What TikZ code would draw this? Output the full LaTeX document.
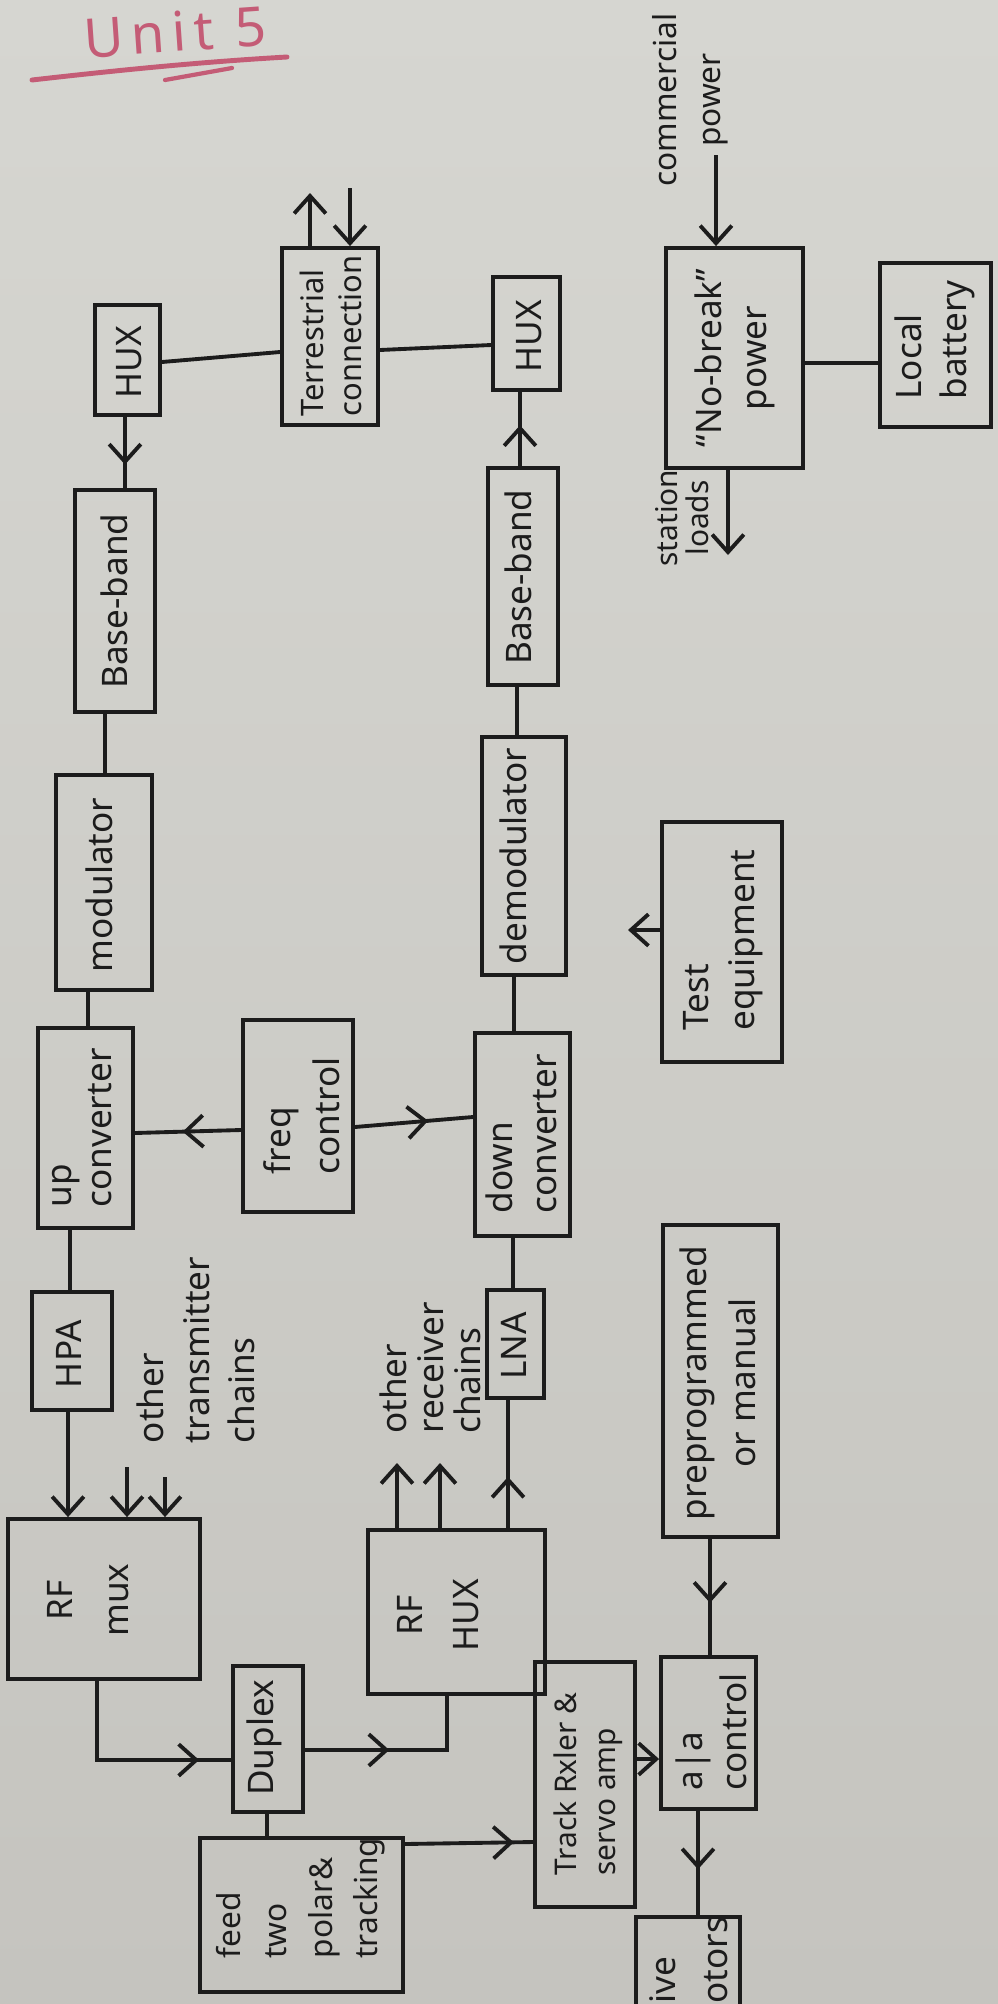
\documentclass[tikz,border=0pt]{standalone}
\usepackage{fontspec}
\setmainfont{Noto Sans}
\newfontfamily\titlefont[LetterSpace=14]{Noto Sans}
\usetikzlibrary{arrows.meta,decorations.markings}

\definecolor{paperlight}{RGB}{214,214,209}
\definecolor{paperdark}{RGB}{197,196,191}
\definecolor{ink}{RGB}{28,28,28}
\definecolor{redpen}{RGB}{196,92,118}

\tikzset{
  box/.style={draw=ink, line width=1.1pt, inner sep=0pt},
  lbl/.style={rotate=90, text=ink, inner sep=0pt, align=left,
              font=\fontsize{10}{13}\selectfont},
  wire/.style={draw=ink, line width=1.1pt},
  ma40/.style={decoration={markings, mark=at position 0.40 with {\arrow{>}}}, postaction={decorate}},
  ma43/.style={decoration={markings, mark=at position 0.43 with {\arrow{>}}}, postaction={decorate}},
  ma55/.style={decoration={markings, mark=at position 0.55 with {\arrow{>}}}, postaction={decorate}},
  ma62/.style={decoration={markings, mark=at position 0.62 with {\arrow{>}}}, postaction={decorate}},
  ma67/.style={decoration={markings, mark=at position 0.67 with {\arrow{>}}}, postaction={decorate}},
  ma85/.style={decoration={markings, mark=at position 0.85 with {\arrow{>}}}, postaction={decorate}},
}

\begin{document}
\begin{tikzpicture}[x=0.1mm,y=-0.1mm,
  >={Straight Barb[length=5pt,width=9pt]}]
% paper
\fill[top color=paperlight, bottom color=paperdark] (0,0) rectangle (998,2004);
\useasboundingbox (0,0) rectangle (998,2004);

% heading
\node[text=redpen, font=\titlefont\fontsize{15.5}{16}\selectfont, rotate=4, inner sep=0pt] (title) at (175,32) {Unit 5};
\draw[redpen, line width=1.4pt, line cap=round] (32,80) .. controls (120,70) and (200,62) .. (287,57);
\draw[redpen, line width=1.2pt, line cap=round] (165,80) -- (232,68);

% ---------- transmit chain ----------
\node[box, minimum width=6.5mm,  minimum height=11mm]   (hux1)   at (127.5,360) {};
\node[box, minimum width=9.6mm,  minimum height=17.7mm] (terr)   at (330,336.5) {};
\node[box, minimum width=8mm,    minimum height=22.2mm] (bb1)    at (115,601) {};
\node[box, minimum width=9.6mm,  minimum height=21.5mm] (mod)    at (104,882.5) {};
\node[box, minimum width=9.5mm,  minimum height=20mm]   (upc)    at (85.5,1128) {};
\node[box, minimum width=8mm,    minimum height=11.8mm] (hpa)    at (72,1351) {};
\node[box, minimum width=19.2mm, minimum height=16mm]   (rfmuxA) at (104,1599) {};
\node[box, minimum width=11mm,   minimum height=19.2mm] (freq)   at (298,1116) {};

% ---------- antenna end ----------
\node[box, minimum width=7mm,    minimum height=14.6mm] (dup)    at (268,1739) {};
\node[box, minimum width=20.3mm, minimum height=15.4mm] (feed)   at (301.5,1915) {};
\node[box, minimum width=10mm,   minimum height=24.5mm] (track)  at (585,1784.5) {};
\node[box, minimum width=9.5mm,  minimum height=15.2mm] (aa)     at (708.5,1733) {};
\node[box, minimum width=11.5mm, minimum height=31.2mm] (prog)   at (720.5,1381) {};

% ---------- receive chain ----------
\node[box, minimum width=6.7mm,  minimum height=11.3mm] (hux2)   at (526.5,333.5) {};
\node[box, minimum width=7mm,    minimum height=21.7mm] (bb2)    at (523,576.5) {};
\node[box, minimum width=8.4mm,  minimum height=23.8mm] (demod)  at (524,856) {};
\node[box, minimum width=9.5mm,  minimum height=20.3mm] (dnc)    at (522.5,1134.5) {};
\node[box, minimum width=5.7mm,  minimum height=10.8mm] (lna)    at (515.5,1344) {};
\node[box, minimum width=17.7mm, minimum height=16.4mm] (rfmuxB) at (456.5,1612) {};

% ---------- power and test ----------
\node[box, minimum width=13.7mm, minimum height=22mm]   (nbp)    at (734.5,358) {};
\node[box, minimum width=11.1mm, minimum height=16.4mm] (batt)   at (935.5,345) {};
\node[box, minimum width=12mm,   minimum height=24mm]   (test)   at (722,942) {};

% drive box running off the lower edge
\draw[wire] (636,2004) -- (636,1917) -- (740,1917) -- (740,2004);
\coordinate (drive-top) at (698,1917);

% ---------- box texts ----------
\node[lbl] (hux1-t)   at (129,362)  {HUX};
\node[lbl, font=\fontsize{8.8}{11}\selectfont] (terr-t) at (331,336) {Terrestrial\\connection};
\node[lbl] (bb1-t)    at (114,601)  {Base-band};
\node[lbl] (mod-t)    at (99,885)   {modulator};
\node[lbl, font=\fontsize{10}{11.5}\selectfont] (upc-t) at (82,1128) {up\\converter};
\node[lbl] (hpa-t)    at (69,1354)  {HPA};
\node[lbl, align=center, font=\fontsize{10}{16}\selectfont] (rfmuxA-t) at (88,1600) {RF\\mux};
\node[lbl, font=\fontsize{10}{14}\selectfont] (freq-t) at (302,1116) {freq\\control};
\node[lbl] (dup-t)    at (264,1738) {Duplex};
\node[lbl, font=\fontsize{9}{13}\selectfont] (feed-t) at (301,1898) {feed\\two\\polar\&\\tracking};
\node[lbl, font=\fontsize{8.5}{11}\selectfont] (track-t) at (588,1784) {Track Rxler \&\\servo amp};
\node[lbl, font=\fontsize{10}{12.5}\selectfont] (aa-t) at (711,1732) {a|a\\control};
\node[lbl, align=center, font=\fontsize{10}{14}\selectfont] (prog-t) at (718,1383) {preprogrammed\\or manual};
\node[lbl] (hux2-t)   at (529,336)  {HUX};
\node[lbl] (bb2-t)    at (518,577)  {Base-band};
\node[lbl] (demod-t)  at (513,856)  {demodulator};
\node[lbl, font=\fontsize{10}{12.5}\selectfont] (dnc-t) at (521,1134) {down\\converter};
\node[lbl] (lna-t)    at (514,1346) {LNA};
\node[lbl, align=center, font=\fontsize{10}{16}\selectfont] (rfmuxB-t) at (438,1615) {RF\\HUX};
\node[lbl, align=center] (nbp-t) at (735,358) {“No-break”\\power};
\node[lbl] (batt-t)   at (935,340)  {Local\\battery};
\node[lbl] (test-t)   at (723,940)  {Test\\equipment};
\node[lbl, anchor=west] (drive-t1) at (663,2004) {ive};
\node[lbl, anchor=west] (drive-t2) at (716,2004) {otors};

% ---------- free labels ----------
\node[lbl] (txchains) at (196,1350) {other\\transmitter\\chains};
\node[lbl, font=\fontsize{10}{10.5}\selectfont] (rxchains) at (430,1368) {other\\receiver\\chains};
\node[lbl, align=center, font=\fontsize{9}{12.5}\selectfont] (comm) at (690,100) {commercial\\power};
\node[lbl, align=center, font=\fontsize{8.5}{9}\selectfont] (stat) at (682,518) {station\\loads};

% ---------- free connector ends ----------
\coordinate (terr-out) at (310,193);
\coordinate (terr-in)  at (350,188);
\coordinate (txo1) at (127,1467);
\coordinate (txo2) at (165,1477);
\coordinate (rxo1) at (397,1463);
\coordinate (rxo2) at (440,1463);
\coordinate (mains) at (716,155);
\coordinate (loads) at (728,555);
\coordinate (testout) at (628,930);

% ---------- transmit connectors ----------
\draw[wire,ma67] (hux1.south -| 125,0) -- (bb1.north -| 125,0);
\draw[wire] (hux1.east |- 0,362) -- (terr.west |- 0,352);
\draw[wire] (terr.east |- 0,350) -- (hux2.west |- 0,345);
\draw[wire,->] (terr.north -| terr-out) -- (terr-out);
\draw[wire,->] (terr-in) -- (terr.north -| terr-in);
\draw[wire] (bb1.south -| 105,0) -- (mod.north -| 105,0);
\draw[wire] (mod.south -| 88,0) -- (upc.north -| 88,0);
\draw[wire] (upc.south -| 70,0) -- (hpa.north -| 70,0);
\draw[wire,->] (hpa.south -| 68,0) -- (rfmuxA.north -| 68,0);
\draw[wire,->] (txo1) -- (rfmuxA.north -| txo1);
\draw[wire,->] (txo2) -- (rfmuxA.north -| txo2);
\draw[wire,ma55] (freq.west |- 0,1130) -- (upc.east |- 0,1133);
\draw[wire,ma62] (freq.east |- 0,1127) -- (dnc.west |- 0,1117);

% ---------- antenna connectors ----------
\draw[wire,ma85] (rfmuxA.south -| 97,0) |- (dup.west |- 0,1760);
\draw[wire,ma43] (dup.east |- 0,1750) -| (rfmuxB.south -| 447,0);
\draw[wire] (dup.south -| 267,0) -- (feed.north -| 267,0);
\draw[wire,ma85] (feed.east |- 0,1844) -- (track.west |- 0,1842);
\draw[wire,->] (track.east |- 0,1759) -- (aa.west |- 0,1759);
\draw[wire,ma55] (prog.south -| 710,0) -- (aa.north -| 710,0);
\draw[wire,ma55] (aa.south -| drive-top) -- (drive-top);

% ---------- receive connectors ----------
\draw[wire,->] (rfmuxB.north -| rxo1) -- (rxo1);
\draw[wire,->] (rfmuxB.north -| rxo2) -- (rxo2);
\draw[wire,ma40] (rfmuxB.north -| 508,0) -- (lna.south -| 508,0);
\draw[wire] (lna.north -| 513,0) -- (dnc.south -| 513,0);
\draw[wire] (dnc.north -| 514,0) -- (demod.south -| 514,0);
\draw[wire] (demod.north -| 517,0) -- (bb2.south -| 517,0);
\draw[wire,ma55] (bb2.north -| 520,0) -- (hux2.south -| 520,0);

% ---------- power and test connectors ----------
\draw[wire,->] (mains) -- (nbp.north -| mains);
\draw[wire] (nbp.east |- 0,363) -- (batt.west |- 0,363);
\draw[wire,->] (nbp.south -| loads) -- (loads);
\draw[wire,->] (test.west |- testout) -- (testout);
\end{tikzpicture}
\end{document}
